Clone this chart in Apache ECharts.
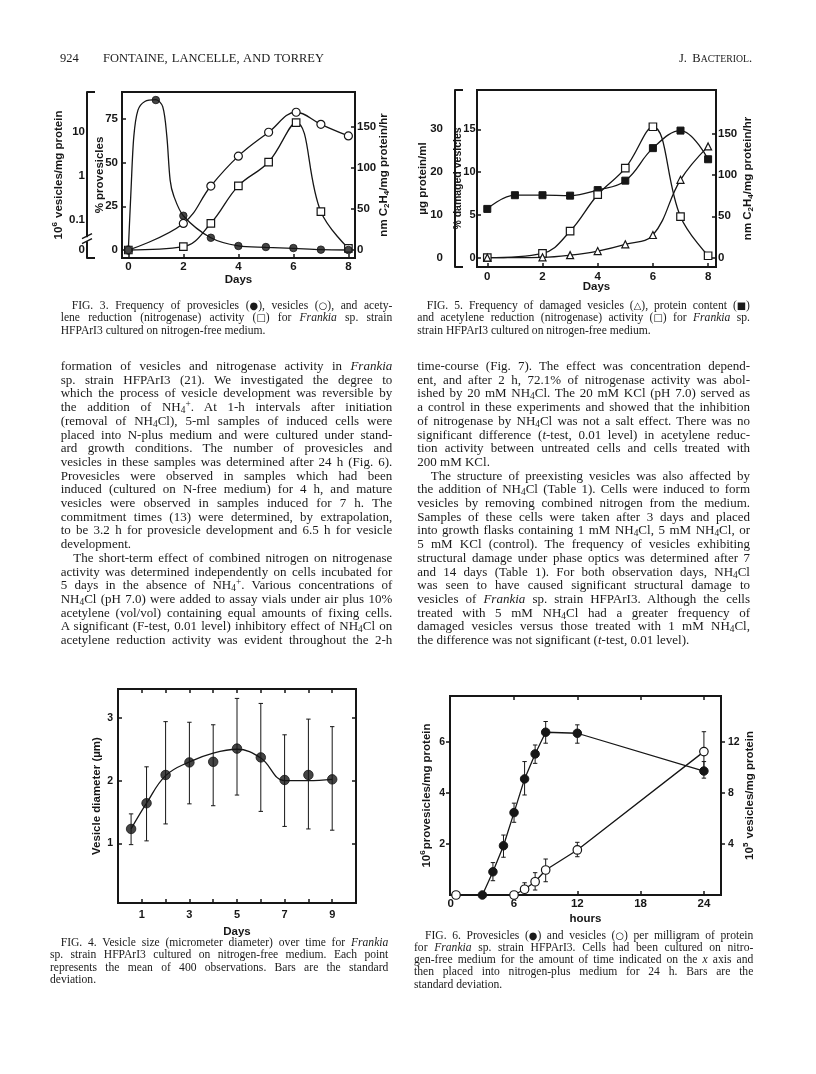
<!DOCTYPE html>
<html>
<head>
<meta charset="utf-8">
<title>Fontaine, Lancelle and Torrey - p. 924</title>
<script src="https://cdn.jsdelivr.net/npm/echarts@6/dist/echarts.min.js"></script>
<style>
html, body { margin: 0; padding: 0; background: #fff; }
#page { position: relative; width: 816px; height: 1074px; overflow: hidden; background: #fff; }
#chart { position: absolute; left: 0; top: 0; width: 816px; height: 1074px; }
.ln { position: absolute; font-family: 'Liberation Serif', 'Times New Roman', serif; color: #1a1a1a; white-space: pre; }
.ln sub { font-size: 0.72em; vertical-align: -0.22em; line-height: 0; }
.ln sup { font-size: 0.72em; vertical-align: 0.45em; line-height: 0; }
.sym { font-family: 'DejaVu Sans', sans-serif; font-size: 0.85em; }
</style>
</head>
<body>
<div id="page"><div id="chart"></div></div>
<script>
// ---------- data ----------
// Fig. 3
var fig3Days = [0, 1, 2, 3, 4, 5, 6, 7, 8];
var fig3Provesicles = [0, 85.8, 19.6, 7.0, 2.3, 1.7, 1.1, 0.2, 0];
var fig3ProvCurveDays = [0, 0.1, 0.2, 0.35, 0.6, 1, 1.25, 1.4, 1.52, 1.65, 2, 3, 4, 5, 6, 7, 8];
var fig3ProvCurve = [0, 35, 65, 80, 85, 86, 82, 65, 40, 31, 19.6, 7, 2.3, 1.5, 0.9, 0.2, 0];
var fig3VesDays = [0, 2, 3, 4, 5.1, 6.1, 7, 8];
var fig3Vesicles = [0.021, 0.084, 0.59, 2.8, 9.7, 27.5, 14.7, 8.0]; // first one sits on the "0" below the break
var fig3NaseDays = [0, 2, 3, 4, 5.1, 6.1, 7, 8];
var fig3Nitrogenase = [0, 4, 32.5, 78, 107, 155, 46.6, 2];
var fig3XTicks = [0, 2, 4, 6, 8];
var fig3PctTicks = [0, 25, 50, 75];
var fig3NaseTicks = [0, 50, 100, 150];
var fig3LogTicks = [0.021, 0.1, 1, 10];

// Fig. 5
var fig5Days = [0, 1, 2, 3, 4, 5, 6, 7, 8];
var fig5Protein = [11.4, 14.6, 14.6, 14.5, 15.8, 18.0, 25.6, 29.7, 23.0];
var fig5NaseDays = [0, 2, 3, 4, 5, 6, 7, 8];
var fig5Nitrogenase = [0, 5.3, 32, 76, 108, 158, 49.5, 2.4];
var fig5DamDays = [0, 2, 3, 4, 5, 6, 7, 8];
var fig5Damaged = [0, 0.05, 0.3, 0.78, 1.56, 2.65, 9.1, 13.0];
var fig5XTicks = [0, 2, 4, 6, 8];
var fig5PctTicks = [0, 5, 10, 15];
var fig5ProtTicks = [0, 10, 20, 30];
var fig5NaseTicks = [0, 50, 100, 150];

// Fig. 4
var fig4Days = [0.55, 1.2, 2, 3, 4, 5, 6, 7, 8, 9];
var fig4Mean = [1.23, 1.64, 2.09, 2.29, 2.30, 2.51, 2.37, 2.01, 2.09, 2.02];
var fig4Upper = [1.47, 2.22, 2.94, 2.93, 2.89, 3.31, 3.23, 2.73, 2.98, 2.86];
var fig4Lower = [0.98, 1.04, 1.31, 1.63, 1.60, 1.77, 1.51, 1.27, 1.23, 1.21];
var fig4Fit = [1.23, 1.64, 2.08, 2.30, 2.44, 2.50, 2.36, 2.00, 2.00, 2.02];
var fig4XTicks = [1, 2, 3, 4, 5, 6, 7, 8, 9];
var fig4XLabels = [1, 3, 5, 7, 9];
var fig4YTicks = [1, 2, 3];

// Fig. 6
var fig6ProvHours = [3, 4, 5, 6, 7, 8, 9, 12, 24];
var fig6Provesicles = [0, 0.91, 1.93, 3.23, 4.55, 5.53, 6.38, 6.34, 4.86];
var fig6ProvErrHours = [4, 5, 6, 7, 8, 9, 12, 24];
var fig6ProvHi = [1.27, 2.35, 3.60, 5.23, 5.88, 6.80, 6.67, 5.23];
var fig6ProvLo = [0.56, 1.48, 2.85, 3.92, 5.16, 5.95, 5.95, 4.58];
var fig6VesHours = [0.5, 6, 7, 8, 9, 12, 24];
var fig6Vesicles = [0, 0, 0.45, 1.04, 1.96, 3.53, 11.24];
var fig6VesErrHours = [7, 8, 9, 12, 24];
var fig6VesHi = [0.96, 1.75, 2.82, 4.13, 12.8];
var fig6VesLo = [0, 0.39, 1.04, 3.0, 9.67];
var fig6XTicks = [0, 6, 12, 18, 24];
var fig6XInnerTicks = [6, 12, 18, 24];
var fig6LeftTicks = [2, 4, 6];
var fig6RightTicks = [4, 8, 12];

// ---------- text of the page ----------
var NH4 = 'NH<sub>4</sub>';
var col1Lines = [
    ['formation of vesicles and nitrogenase activity in <i>Frankia</i>'],
    ['sp. strain HFPArI3 (21). We investigated the degree to'],
    ['which the process of vesicle development was reversible by'],
    ['the addition of ' + NH4 + '<sup>+</sup>. At 1-h intervals after initiation'],
    ['(removal of ' + NH4 + 'Cl), 5-ml samples of induced cells were'],
    ['placed into N-plus medium and were cultured under stand-'],
    ['ard growth conditions. The number of provesicles and'],
    ['vesicles in these samples was determined after 24 h (Fig. 6).'],
    ['Provesicles were observed in samples which had been'],
    ['induced (cultured on N-free medium) for 4 h, and mature'],
    ['vesicles were observed in samples induced for 7 h. The'],
    ['commitment times (13) were determined, by extrapolation,'],
    ['to be 3.2 h for provesicle development and 6.5 h for vesicle'],
    ['development.', 'last'],
    ['The short-term effect of combined nitrogen on nitrogenase', 'indent'],
    ['activity was determined independently on cells incubated for'],
    ['5 days in the absence of ' + NH4 + '<sup>+</sup>. Various concentrations of'],
    [NH4 + 'Cl (pH 7.0) were added to assay vials under air plus 10%'],
    ['acetylene (vol/vol) containing equal amounts of fixing cells.'],
    ['A significant (F-test, 0.01 level) inhibitory effect of ' + NH4 + 'Cl on'],
    ['acetylene reduction activity was evident throughout the 2-h']
];
var col2Lines = [
    ['time-course (Fig. 7). The effect was concentration depend-'],
    ['ent, and after 2 h, 72.1% of nitrogenase activity was abol-'],
    ['ished by 20 mM ' + NH4 + 'Cl. The 20 mM KCl (pH 7.0) served as'],
    ['a control in these experiments and showed that the inhibition'],
    ['of nitrogenase by ' + NH4 + 'Cl was not a salt effect. There was no'],
    ['significant difference (<i>t</i>-test, 0.01 level) in acetylene reduc-'],
    ['tion activity between untreated cells and cells treated with'],
    ['200 mM KCl.', 'last'],
    ['The structure of preexisting vesicles was also affected by', 'indent'],
    ['the addition of ' + NH4 + 'Cl (Table 1). Cells were induced to form'],
    ['vesicles by removing combined nitrogen from the medium.'],
    ['Samples of these cells were taken after 3 days and placed'],
    ['into growth flasks containing 1 mM ' + NH4 + 'Cl, 5 mM ' + NH4 + 'Cl, or'],
    ['5 mM KCl (control). The frequency of vesicles exhibiting'],
    ['structural damage under phase optics was determined after 7'],
    ['and 14 days (Table 1). For both observation days, ' + NH4 + 'Cl'],
    ['was seen to have caused significant structural damage to'],
    ['vesicles of <i>Frankia</i> sp. strain HFPArI3. Although the cells'],
    ['treated with 5 mM ' + NH4 + 'Cl had a greater frequency of'],
    ['damaged vesicles versus those treated with 1 mM ' + NH4 + 'Cl,'],
    ['the difference was not significant (<i>t</i>-test, 0.01 level).', 'last']
];
var cap3Lines = [
    ['FIG. 3. Frequency of provesicles (<span class="sym">●</span>), vesicles (<span class="sym">○</span>), and acety-', 'indent'],
    ['lene reduction (nitrogenase) activity (<span class="sym">□</span>) for <i>Frankia</i> sp. strain'],
    ['HFPArI3 cultured on nitrogen-free medium.', 'last']
];
var cap5Lines = [
    ['FIG. 5. Frequency of damaged vesicles (<span class="sym">△</span>), protein content (<span class="sym">■</span>)', 'indent'],
    ['and acetylene reduction (nitrogenase) activity (<span class="sym">□</span>) for <i>Frankia</i> sp.'],
    ['strain HFPArI3 cultured on nitrogen-free medium.', 'last']
];
var cap4Lines = [
    ['FIG. 4. Vesicle size (micrometer diameter) over time for <i>Frankia</i>', 'indent'],
    ['sp. strain HFPArI3 cultured on nitrogen-free medium. Each point'],
    ['represents the mean of 400 observations. Bars are the standard'],
    ['deviation.', 'last']
];
var cap6Lines = [
    ['FIG. 6. Provesicles (<span class="sym">●</span>) and vesicles (<span class="sym">○</span>) per milligram of protein', 'indent'],
    ['for <i>Frankia</i> sp. strain HFPArI3. Cells had been cultured on nitro-'],
    ['gen-free medium for the amount of time indicated on the <i>x</i> axis and'],
    ['then placed into nitrogen-plus medium for 24 h. Bars are the'],
    ['standard deviation.', 'last']
];

var page = document.getElementById('page');

/**
 * Lay out justified lines, one div per printed line
 */
function textBlock(lines, left, top, width, lineH, size, indent) {
    lines.forEach(function (ln, i) {
        var d = document.createElement('div');
        var ind = ln[1] === 'indent' ? indent : 0;
        d.className = 'ln';
        d.style.left = (left + ind) + 'px';
        d.style.top = (top + i * lineH) + 'px';
        d.style.fontSize = size + 'px';
        d.style.lineHeight = lineH + 'px';
        d.innerHTML = ln[0];
        page.appendChild(d);
        if (ln[1] !== 'last') {
            var nat = d.getBoundingClientRect().width;
            var spaces = (d.textContent.match(/ /g) || []).length;
            if (spaces) d.style.wordSpacing = ((width - ind - nat) / spaces) + 'px';
        }
    });
}

// running head
textBlock([['924', 'last']], 60, 51, 20, 14, 12.5, 0);
textBlock([['FONTAINE, LANCELLE, AND TORREY']], 103, 51, 221, 14, 12.5, 0);
textBlock([['J. B<span style="font-size:0.78em">ACTERIOL</span>.']], 679, 51, 73, 14, 12.5, 0);

// body text, two columns
textBlock(col1Lines, 60.7, 359, 331.6, 13.7, 13, 12.6);
textBlock(col2Lines, 417.3, 359, 332.7, 13.7, 13, 13.4);

// captions
textBlock(cap3Lines, 60.7, 299.5, 331.6, 12.5, 11.6, 11);
textBlock(cap5Lines, 417.3, 299.5, 332.7, 12.5, 11.6, 9.4);
textBlock(cap4Lines, 50, 937, 338.3, 12.45, 11.6, 10.7);
textBlock(cap6Lines, 414, 929.7, 339.3, 12.25, 11.6, 11);

// ---------- chart ----------
var INK = '#161616';
var SANS = "'Liberation Sans', Arial, sans-serif";
var RICH = {
    sup: { fontSize: 8, fontFamily: SANS, fontWeight: 'bold', color: INK, padding: [0, 1, 7, 0] },
    sub: { fontSize: 8, fontFamily: SANS, fontWeight: 'bold', color: INK, padding: [6, 0, 0, 0] }
};

function pairs(xs, ys) {
    return xs.map(function (x, i) { return [x, ys[i]]; });
}
function triples(xs, hi, lo) {
    return xs.map(function (x, i) { return [x, hi[i], lo[i]]; });
}

/**
 * One axis; labels / ticks given as value lists
 */
function mkAxis(p) {
    var a = {
        type: p.type || 'value',
        gridIndex: p.grid,
        position: p.pos,
        offset: p.offset || 0,
        min: p.min,
        max: p.max,
        nameMoveOverlap: false,
        splitLine: { show: false },
        axisLine: { show: !!p.line, onZero: false, lineStyle: { color: INK, width: 2 } },
        axisTick: p.ticks ? {
            show: true, customValues: p.ticks, inside: p.inside !== false,
            length: p.tickLen || 4, lineStyle: { color: INK, width: p.tickWidth || 1.5 }
        } : { show: false },
        axisLabel: p.labels ? {
            show: true, customValues: p.labels, margin: p.margin || 3, color: INK,
            fontFamily: SANS, fontWeight: 'bold', fontSize: p.fontSize || 11.5
        } : { show: false }
    };
    if (p.type === 'log') a.logBase = 10;
    if (p.formatter) a.axisLabel.formatter = p.formatter;
    if (p.name) {
        a.name = p.name;
        a.nameLocation = 'middle';
        a.nameGap = p.nameGap;
        if (p.pos === 'left' || p.pos === 'right') a.nameRotate = 90;
        a.nameTextStyle = {
            color: INK, fontFamily: SANS, fontWeight: 'bold',
            fontSize: p.nameSize || 11.5, rich: RICH
        };
    }
    return a;
}

function errBar(params, api) {
    var x = api.value(0);
    var hi = api.coord([x, api.value(1)]);
    var lo = api.coord([x, api.value(2)]);
    var c = 2.2;
    var st = { stroke: INK, lineWidth: 1 };
    return {
        type: 'group',
        children: [
            { type: 'line', shape: { x1: hi[0], y1: hi[1], x2: lo[0], y2: lo[1] }, style: st },
            { type: 'line', shape: { x1: hi[0] - c, y1: hi[1], x2: hi[0] + c, y2: hi[1] }, style: st },
            { type: 'line', shape: { x1: lo[0] - c, y1: lo[1], x2: lo[0] + c, y2: lo[1] }, style: st }
        ]
    };
}

var openStyle = { color: '#fff', borderColor: INK, borderWidth: 1.2 };
var fillStyle = { color: INK, borderColor: INK, borderWidth: 1 };
var curve = { color: INK, width: 1.3 };

var gridBase = { show: true, borderColor: INK, borderWidth: 2, backgroundColor: 'transparent', outerBoundsMode: 'none', containLabel: false };
function mkGrid(l, t, w, h) {
    return Object.assign({ left: l, top: t, width: w, height: h }, gridBase);
}

var option = {
    animation: false,
    grid: [
        mkGrid(122, 92, 233, 166),   // fig 3
        mkGrid(477, 90, 239, 177),   // fig 5
        mkGrid(118, 689, 238, 214),  // fig 4
        mkGrid(450, 696, 271, 199)   // fig 6
    ],
    xAxis: [
        mkAxis({ grid: 0, pos: 'bottom', min: -0.23, max: 8.24, ticks: fig3XTicks, labels: fig3XTicks, margin: 3, name: 'Days', nameGap: 16 }),
        mkAxis({ grid: 1, pos: 'bottom', min: -0.373, max: 8.286, ticks: fig5XTicks, labels: fig5XTicks, margin: 4, name: 'Days', nameGap: 14 }),
        mkAxis({ grid: 2, pos: 'bottom', min: 0, max: 10, ticks: fig4XTicks, labels: fig4XLabels, margin: 6, fontSize: 11, name: 'Days', nameGap: 23 }),
        mkAxis({ grid: 2, pos: 'top', min: 0, max: 10, ticks: fig4XTicks }),
        mkAxis({ grid: 3, pos: 'bottom', min: -0.07, max: 25.62, ticks: fig6XInnerTicks, labels: fig6XTicks, margin: 3, name: 'hours', nameGap: 18 }),
        mkAxis({ grid: 3, pos: 'top', min: -0.07, max: 25.62, ticks: fig6XInnerTicks })
    ],
    yAxis: [
        // fig 3
        mkAxis({ grid: 0, pos: 'left', min: -4.58, max: 90.4, ticks: fig3PctTicks, labels: fig3PctTicks, margin: 4, name: '% provesicles', nameGap: 16 }),
        mkAxis({ grid: 0, pos: 'left', type: 'log', offset: 35, line: true, min: 0.0139, max: 79, ticks: [0.0139, 79], tickLen: 8, tickWidth: 2,
            labels: fig3LogTicks, margin: 2, formatter: function (v) { return v < 0.05 ? '0' : String(+(+v).toPrecision(2)); },
            name: '10{sup|6} vesicles/mg protein', nameGap: 21 }),
        mkAxis({ grid: 0, pos: 'right', min: -9.73, max: 192.2, ticks: fig3NaseTicks, labels: fig3NaseTicks, margin: 2,
            name: 'nm C{sub|2}H{sub|4}/mg protein/hr', nameGap: 22 }),
        // fig 5
        mkAxis({ grid: 1, pos: 'left', min: -1.086, max: 19.59, ticks: fig5PctTicks, labels: fig5PctTicks, margin: 1.5, fontSize: 11,
            name: '% damaged vesicles', nameGap: 13.5, nameSize: 10.5 }),
        mkAxis({ grid: 1, pos: 'left', offset: 22, line: true, min: -2.17, max: 39.18, ticks: [-2.17, 39.18], tickLen: 8, tickWidth: 2,
            labels: fig5ProtTicks, margin: 12, name: 'µg protein/ml', nameGap: 26 }),
        mkAxis({ grid: 1, pos: 'right', min: -11.2, max: 202.3, ticks: fig5NaseTicks, labels: fig5NaseTicks, margin: 2,
            name: 'nm C{sub|2}H{sub|4}/mg protein/hr', nameGap: 25 }),
        // fig 4
        mkAxis({ grid: 2, pos: 'left', min: 0.05, max: 3.46, ticks: fig4YTicks, labels: fig4YTicks, margin: 5, fontSize: 10.5,
            name: 'Vesicle diameter (µm)', nameGap: 15 }),
        mkAxis({ grid: 2, pos: 'right', min: 0.05, max: 3.46, ticks: fig4YTicks }),
        // fig 6
        mkAxis({ grid: 3, pos: 'left', min: 0, max: 7.8, ticks: fig6LeftTicks, labels: fig6LeftTicks, inside: false, margin: 5, fontSize: 10.5,
            name: '10{sup|6}provesicles/mg protein', nameGap: 16 }),
        mkAxis({ grid: 3, pos: 'right', min: 0, max: 15.6, ticks: fig6RightTicks, labels: fig6RightTicks, inside: false, margin: 7, fontSize: 10.5,
            name: '10{sup|5} vesicles/mg protein', nameGap: 21 })
    ],
    series: [
        // ---- fig 3 ----
        { type: 'line', xAxisIndex: 0, yAxisIndex: 0, data: pairs(fig3ProvCurveDays, fig3ProvCurve), smooth: 0.3,
            showSymbol: false, symbol: 'none', lineStyle: curve, z: 2 },
        { type: 'scatter', xAxisIndex: 0, yAxisIndex: 0, data: pairs(fig3Days, fig3Provesicles), symbol: 'circle',
            symbolSize: 7.5, itemStyle: fillStyle, z: 4 },
        { type: 'line', xAxisIndex: 0, yAxisIndex: 1, data: pairs(fig3VesDays, fig3Vesicles), smooth: 0.4,
            symbol: 'circle', symbolSize: 8, showAllSymbol: true, itemStyle: openStyle, lineStyle: curve, z: 3 },
        { type: 'line', xAxisIndex: 0, yAxisIndex: 2, data: pairs(fig3NaseDays, fig3Nitrogenase), smooth: 0.4,
            symbol: 'rect', symbolSize: 7.5, showAllSymbol: true, itemStyle: openStyle, lineStyle: curve, z: 3 },
        // ---- fig 5 ----
        { type: 'line', xAxisIndex: 1, yAxisIndex: 4, data: pairs(fig5Days, fig5Protein), smooth: 0.4,
            symbol: 'rect', symbolSize: 7, showAllSymbol: true, itemStyle: fillStyle, lineStyle: curve, z: 3 },
        { type: 'line', xAxisIndex: 1, yAxisIndex: 5, data: pairs(fig5NaseDays, fig5Nitrogenase), smooth: 0.4,
            symbol: 'rect', symbolSize: 7.5, showAllSymbol: true, itemStyle: openStyle, lineStyle: curve, z: 3 },
        { type: 'line', xAxisIndex: 1, yAxisIndex: 3, data: pairs(fig5DamDays, fig5Damaged), smooth: 0.4,
            symbol: 'triangle', symbolSize: 7, showAllSymbol: true, itemStyle: openStyle, lineStyle: curve, z: 3 },
        // ---- fig 4 ----
        { type: 'custom', xAxisIndex: 2, yAxisIndex: 6, data: triples(fig4Days, fig4Upper, fig4Lower),
            encode: { x: 0, y: [1, 2] }, renderItem: errBar, z: 2 },
        { type: 'line', xAxisIndex: 2, yAxisIndex: 6, data: pairs(fig4Days, fig4Fit), smooth: 0.4,
            showSymbol: false, symbol: 'none', lineStyle: curve, z: 3 },
        { type: 'scatter', xAxisIndex: 2, yAxisIndex: 6, data: pairs(fig4Days, fig4Mean), symbol: 'circle',
            symbolSize: 9.5, itemStyle: fillStyle, z: 4 },
        // ---- fig 6 ----
        { type: 'custom', xAxisIndex: 4, yAxisIndex: 8, data: triples(fig6ProvErrHours, fig6ProvHi, fig6ProvLo),
            encode: { x: 0, y: [1, 2] }, renderItem: errBar, z: 2 },
        { type: 'custom', xAxisIndex: 4, yAxisIndex: 9, data: triples(fig6VesErrHours, fig6VesHi, fig6VesLo),
            encode: { x: 0, y: [1, 2] }, renderItem: errBar, z: 2 },
        { type: 'line', xAxisIndex: 4, yAxisIndex: 8, data: pairs(fig6ProvHours, fig6Provesicles),
            symbol: 'circle', symbolSize: 8.5, showAllSymbol: true, itemStyle: fillStyle, lineStyle: curve, z: 3 },
        { type: 'line', xAxisIndex: 4, yAxisIndex: 9, data: pairs(fig6VesHours, fig6Vesicles),
            symbol: 'circle', symbolSize: 8.5, showAllSymbol: true, itemStyle: openStyle, lineStyle: curve, z: 3 }
    ]
};

var chart = echarts.init(document.getElementById('chart'), null, { renderer: 'canvas' });
chart.setOption(option);

// break mark on the log axis of fig. 3, placed through the axis scale
var breakY = chart.convertToPixel({ yAxisIndex: 1 }, 0.037);
var breakX = 122 - 35;
chart.setOption({
    graphic: [
        { type: 'rect', shape: { x: breakX - 4, y: breakY - 2, width: 8, height: 4 }, style: { fill: '#fff' }, z: 100 },
        { type: 'line', shape: { x1: breakX - 5, y1: breakY - 0.5, x2: breakX + 5, y2: breakY - 5.5 }, style: { stroke: INK, lineWidth: 1.5 }, z: 101 },
        { type: 'line', shape: { x1: breakX - 5, y1: breakY + 4.5, x2: breakX + 5, y2: breakY - 0.5 }, style: { stroke: INK, lineWidth: 1.5 }, z: 101 }
    ]
});
</script>
</body>
</html>
